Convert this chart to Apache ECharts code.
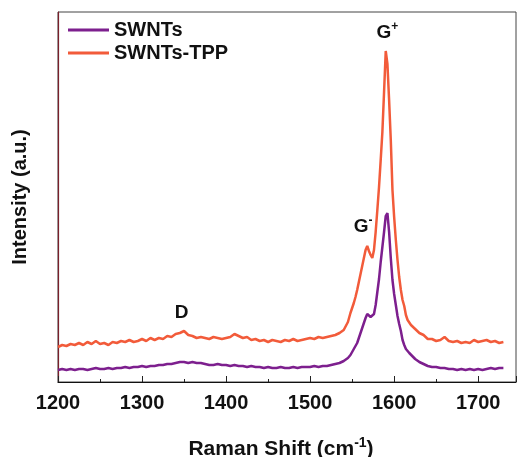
<!DOCTYPE html>
<html>
<head>
<meta charset="utf-8">
<script src="https://cdn.jsdelivr.net/npm/echarts@6/dist/echarts.min.js"></script>
<style>
    html, body { margin: 0; padding: 0; background: #fff; }
    #chart { width: 518px; height: 457px; }
</style>
</head>
<body>
<div id="chart"></div>
<script>
    // Raman shift (cm-1)
    var shift = [
        1200, 1205, 1210, 1215, 1220, 1225, 1230, 1235, 1240, 1245,
        1250, 1255, 1260, 1265, 1270, 1275, 1280, 1285, 1290, 1295,
        1300, 1305, 1310, 1315, 1320, 1325, 1330, 1335, 1340, 1345,
        1350, 1355, 1360, 1365, 1370, 1375, 1380, 1385, 1390, 1395,
        1400, 1405, 1410, 1415, 1420, 1425, 1430, 1435, 1440, 1445,
        1450, 1455, 1460, 1465, 1470, 1475, 1480, 1485, 1490, 1495,
        1500, 1505, 1510, 1515, 1520, 1525, 1530, 1535, 1540, 1545,
        1548, 1550, 1552, 1554, 1556, 1558, 1560, 1562, 1564, 1566,
        1568, 1570, 1572, 1574, 1576, 1578, 1580, 1582, 1584, 1586,
        1588, 1590, 1592, 1594, 1596, 1598, 1600, 1602, 1604, 1606,
        1608, 1610, 1612, 1614, 1616, 1618, 1620,
        1625, 1630, 1635, 1640, 1645, 1650, 1655, 1660, 1665, 1670,
        1675, 1680, 1685, 1690, 1695, 1700, 1705, 1710, 1715, 1720,
        1725, 1730
    ];
    // intensity, arbitrary units
    var swnts = [
        12, 13, 12, 13, 12, 13, 13, 12, 13, 14,
        13, 13, 14, 13, 14, 14, 15, 14, 15, 15,
        16, 15, 16, 16, 17, 17, 18, 18, 19, 20,
        20, 19, 20, 19, 19, 18, 17, 17, 18, 17,
        17, 16, 17, 16, 16, 15, 16, 15, 15, 14,
        15, 14, 14, 15, 14, 14, 15, 14, 15, 15,
        15, 16, 15, 16, 16, 17, 18, 19, 21, 24,
        27, 30, 33, 36, 39, 44, 49, 54, 59, 64,
        68, 67, 65, 64, 68, 77, 90, 103, 120, 135,
        150, 166, 169, 150, 124, 102, 88, 77, 66, 58,
        51, 42, 37, 33, 31, 29, 27,
        23, 20, 18, 16, 15, 15, 14, 14, 13, 13,
        12, 13, 12, 13, 12, 13, 12, 13, 14, 13,
        14, 14
    ];
    var swntsTpp = [
        35, 37, 36, 38, 37, 39, 37, 40, 38, 41,
        38, 39, 37, 40, 39, 41, 40, 42, 40, 41,
        43, 41, 44, 42, 44, 43, 46, 45, 48, 49,
        51, 47, 46, 44, 45, 44, 43, 45, 44, 43,
        44, 45, 48, 46, 44, 45, 42, 43, 41, 42,
        40, 42, 41, 40, 42, 41, 43, 41, 42, 43,
        44, 43, 45, 44, 45, 46, 47, 49, 52, 60,
        69, 74, 79, 85, 92, 100, 108, 116, 124, 132,
        136, 131, 127, 124, 132, 150, 172, 195, 222, 250,
        290, 331, 318, 282, 242, 192, 165, 142, 122, 105,
        92, 82, 76, 67, 62, 63, 57,
        53, 49, 47, 43, 43, 41, 42, 45, 41, 40,
        41, 39, 40, 39, 42, 40, 41, 42, 40, 41,
        39, 40
    ];
    var seriesNames = ['SWNTs', 'SWNTs-TPP'];
    var colors = ['#7d1f8e', '#f25b3a'];

    function pairs(ys) {
        return shift.map(function (x, i) { return [x, ys[i]]; });
    }

    var chart = echarts.init(document.getElementById('chart'));
    var font = 'Liberation Sans, Arial, sans-serif';
    var xMin = 1200, xMax = 1745;

    chart.setOption({
        animation: false,
        color: colors,
        grid: {
            left: 58, right: 2, top: 12, bottom: 75,
            outerBoundsMode: 'none',
            show: true, borderColor: '#444', borderWidth: 1
        },
        legend: {
            data: seriesNames,
            orient: 'vertical',
            left: 68, top: 20, padding: 0,
            itemWidth: 41, itemHeight: 3, itemGap: 3,
            icon: 'rect',
            textStyle: { fontFamily: font, fontWeight: 'bold', fontSize: 20, color: '#111', lineHeight: 20 }
        },
        xAxis: [
            {
                type: 'value', min: xMin, max: xMax, interval: 50,
                axisLine: { lineStyle: { color: '#111', width: 1.2 } },
                axisTick: { inside: true, length: 3, lineStyle: { color: '#222' } },
                axisLabel: {
                    margin: 11, fontFamily: font, fontWeight: 'bold', fontSize: 20, color: '#111',
                    formatter: function (v) { return v % 100 === 0 ? v : ''; }
                },
                splitLine: { show: false },
                name: '{a|Raman Shift (cm}{s|-1}{a|)}',
                nameLocation: 'middle', nameGap: 54,
                nameTextStyle: {
                    padding: [0, 12, 0, 0],
                    rich: {
                        a: { fontFamily: font, fontWeight: 'bold', fontSize: 21, color: '#111' },
                        s: { fontFamily: font, fontWeight: 'bold', fontSize: 14, color: '#111', padding: [0, 0, 13, 0] }
                    }
                }
            },
            {
                type: 'value', min: xMin, max: xMax, interval: 100, position: 'bottom',
                axisLine: { show: false },
                axisTick: { inside: true, length: 6, lineStyle: { color: '#222' } },
                axisLabel: { show: false },
                splitLine: { show: false }
            }
        ],
        yAxis: {
            type: 'value', min: 0, max: 370,
            axisLine: { show: true, lineStyle: { color: '#7a1f2a', width: 1.2 } },
            axisTick: { show: false },
            axisLabel: { show: false },
            splitLine: { show: false },
            name: 'Intensity (a.u.)',
            nameLocation: 'middle', nameGap: 28,
            nameTextStyle: { fontFamily: font, fontWeight: 'bold', fontSize: 20, color: '#111' }
        },
        series: [
            {
                name: seriesNames[0], type: 'line', xAxisIndex: 0,
                data: pairs(swnts),
                showSymbol: false, symbol: 'none',
                lineStyle: { width: 2.5 }
            },
            {
                name: seriesNames[1], type: 'line', xAxisIndex: 0,
                data: pairs(swntsTpp),
                showSymbol: false, symbol: 'none',
                lineStyle: { width: 2.5 },
                markPoint: {
                    symbol: 'circle', symbolSize: 0,
                    label: {
                        show: true, position: 'inside',
                        rich: {
                            b: { fontFamily: font, fontWeight: 'bold', fontSize: 19, color: '#111' },
                            s: { fontFamily: font, fontWeight: 'bold', fontSize: 12, color: '#111', padding: [0, 0, 12, 0] }
                        }
                    },
                    data: [
                        { coord: [1347, 69], label: { formatter: '{b|D}' } },
                        { coord: [1563, 155], label: { formatter: '{b|G}{s|-}' } },
                        { coord: [1592, 349], label: { formatter: '{b|G}{s|+}' } }
                    ]
                }
            }
        ]
    });
</script>
</body>
</html>
